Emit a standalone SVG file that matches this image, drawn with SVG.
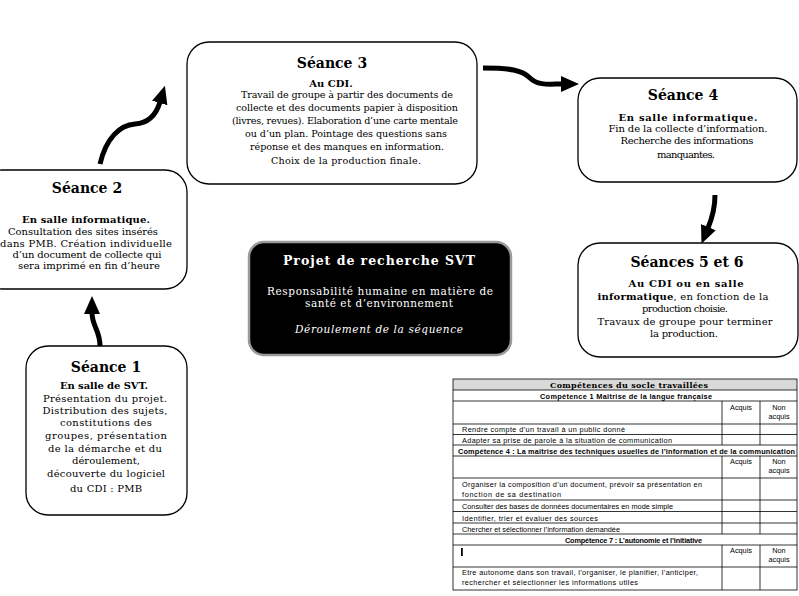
<svg xmlns="http://www.w3.org/2000/svg" width="799" height="596" viewBox="0 0 799 596">
<defs>
<style>
.box{fill:#fff;stroke:#000;stroke-width:1.3}
.t{font-family:"DejaVu Serif",serif;text-anchor:middle;fill:#000}
.h{font-size:14px;font-weight:bold}
.s{font-size:10px;font-weight:bold}
.b{font-size:10px}
.b3{font-size:9.6px}
.w{fill:#fff}
.tb{font-family:"Liberation Sans",Arial,sans-serif;font-size:7.3px;fill:#000}
.tbh{font-family:"DejaVu Serif",serif;font-size:8px;font-weight:bold;text-anchor:middle}
.tbb{font-weight:bold}
.mid{text-anchor:middle}
.grid{stroke:#000;stroke-width:0.8;fill:none}
.arrow{fill:none;stroke:#000;stroke-width:5;marker-end:url(#ah)}
</style>
<marker id="ah" markerUnits="userSpaceOnUse" viewBox="0 0 18 16" refX="1" refY="8" markerWidth="18" markerHeight="16" orient="auto"><path d="M0,0 L18,8 L0,16 z" fill="#000"/></marker>
</defs>
<rect width="799" height="596" fill="#fff"/>

<g id="connectors">
<path class="arrow" d="M100,346 C100,330 92,326 92,313"/>
<path class="arrow" d="M100,164 C106,138 120,125 135,124 C150,123 157,112 160,102"/>
<path class="arrow" d="M483,68 C510,68 522,70 530,78 C538,86 550,84 562,84"/>
<path class="arrow" d="M715,195 C715,208 713,216 708,228"/>
</g>

<g id="seance1">
<rect class="box" x="26" y="346" width="161" height="169" rx="22"/>
<text class="t h" x="106" y="372">Séance 1</text>
<text class="t s" x="104" y="389" textLength="88">En salle de SVT.</text>
<text class="t b" x="105" y="402" textLength="124">Présentation du projet.</text>
<text class="t b" x="105" y="414" textLength="125">Distribution des sujets,</text>
<text class="t b" x="106" y="426" textLength="92">constitutions des</text>
<text class="t b" x="106" y="439" textLength="122">groupes, présentation</text>
<text class="t b" x="105" y="452" textLength="114">de la démarche et du</text>
<text class="t b" x="106" y="464" textLength="68">déroulement,</text>
<text class="t b" x="106" y="477" textLength="118">découverte du logiciel</text>
<text class="t b" x="106" y="492" textLength="72">du CDI : PMB</text>
</g>

<g id="seance2">
<rect class="box" x="-20" y="170" width="207" height="119" rx="22"/>
<text class="t h" x="87" y="193">Séance 2</text>
<text class="t s" x="86" y="223" textLength="128">En salle informatique.</text>
<text class="t b" x="83" y="235" textLength="150">Consultation des sites insérés</text>
<text class="t b" x="86" y="247" textLength="172">dans PMB. Création individuelle</text>
<text class="t b" x="87" y="258" textLength="149">d’un document de collecte qui</text>
<text class="t b" x="89" y="269" textLength="142">sera imprimé en fin d’heure</text>
</g>

<g id="seance3">
<rect class="box" x="187" y="42" width="290" height="142" rx="22"/>
<text class="t h" x="332" y="68">Séance 3</text>
<text class="t s" x="331" y="87">Au CDI.</text>
<text class="t b3" x="347" y="98" textLength="212">Travail de groupe à partir des documents de</text>
<text class="t b3" x="347" y="111" textLength="222">collecte et des documents papier à disposition</text>
<text class="t b3" x="345" y="124" textLength="226">(livres, revues). Elaboration d’une carte mentale</text>
<text class="t b3" x="346" y="137" textLength="202">ou d’un plan.  Pointage des questions sans</text>
<text class="t b3" x="347" y="150" textLength="194">réponse et des manques en information.</text>
<text class="t b3" x="346" y="164" textLength="150">Choix de la production finale.</text>
</g>

<g id="seance4">
<rect class="box" x="578" y="78" width="219" height="104" rx="22"/>
<text class="t h" x="683" y="100">Séance 4</text>
<text class="t s" x="688" y="121" textLength="139">En salle informatique.</text>
<text class="t b" x="688" y="132" textLength="159">Fin de la collecte d’information.</text>
<text class="t b" x="687" y="144" textLength="133">Recherche des informations</text>
<text class="t b" x="686" y="158" textLength="58">manquantes.</text>
</g>

<g id="seance56">
<rect class="box" x="578" y="243" width="220" height="114" rx="22"/>
<text class="t h" x="687" y="267">Séances 5 et 6</text>
<text class="t s" x="686" y="287" textLength="115">Au CDI ou en salle</text>
<text class="t b" x="683" y="300" textLength="171"><tspan font-weight="bold">informatique</tspan>, en fonction de la</text>
<text class="t b" x="685" y="312" textLength="86">production choisie.</text>
<text class="t b" x="685" y="325" textLength="175">Travaux de groupe pour terminer</text>
<text class="t b" x="684" y="337" textLength="68">la production.</text>
</g>

<g id="projet">
<rect x="249" y="242" width="262" height="113" rx="15" fill="#000" stroke="#9a9a9a" stroke-width="2.5"/>
<text class="t w" x="379" y="265" font-size="12.5" font-weight="bold" textLength="192">Projet de recherche SVT</text>
<text class="t w" x="380" y="295" font-size="10.5" textLength="226">Responsabilité humaine en matière de</text>
<text class="t w" x="379" y="307" font-size="10.5" textLength="148">santé et d’environnement</text>
<text class="t w" x="379" y="333" font-size="10.5" font-style="italic" textLength="168">Déroulement de la séquence</text>
</g>

<g id="competences">
<rect x="453" y="379" width="344" height="11" fill="#d9d9d9"/>
<rect class="grid" x="453" y="379" width="344" height="211"/>
<path class="grid" d="M453,390H797M453,401H797M453,424H797M453,434.5H797M453,445H797M453,456H797M453,478H797M453,500H797M453,511.5H797M453,523H797M453,534H797M453,545H797M453,567H797M722,401V445M760,401V445M722,456V534M760,456V534M722,545V590M760,545V590"/>
<text class="tbh" x="629" y="388" textLength="158">Compétences du socle travaillées</text>
<text class="tb tbb mid" x="626" y="398.5" textLength="172">Compétence 1 Maîtrise de la langue française</text>
<text class="tb mid" x="741" y="410">Acquis</text>
<text class="tb mid" x="779" y="410">Non</text>
<text class="tb mid" x="779" y="419">acquis</text>
<text class="tb" x="462" y="432" textLength="163">Rendre compte d’un travail à un public donné</text>
<text class="tb" x="462" y="443" textLength="210">Adapter sa prise de parole à la situation de communication</text>
<text class="tb tbb" x="458" y="453.5" textLength="337">Compétence 4 : La maîtrise des techniques usuelles de l’information et de la communication</text>
<text class="tb mid" x="741" y="464">Acquis</text>
<text class="tb mid" x="779" y="464">Non</text>
<text class="tb mid" x="779" y="473">acquis</text>
<text class="tb" x="462" y="487" textLength="240">Organiser la composition d’un document, prévoir sa présentation en</text>
<text class="tb" x="462" y="497" textLength="99">fonction de sa destination</text>
<text class="tb" x="462" y="509" textLength="211">Consulter des bases de données documentaires en mode simple</text>
<text class="tb" x="462" y="520.5" textLength="136">Identifier, trier et évaluer des sources</text>
<text class="tb" x="462" y="531.5" textLength="158">Chercher et sélectionner l’information demandée</text>
<text class="tb tbb mid" x="633.5" y="542.5" textLength="137">Compétence 7 : L’autonomie et l’initiative</text>
<rect x="461" y="548" width="1.8" height="8" fill="#000"/>
<text class="tb mid" x="741" y="553">Acquis</text>
<text class="tb mid" x="779" y="553">Non</text>
<text class="tb mid" x="779" y="562">acquis</text>
<text class="tb" x="462" y="575" textLength="236">Etre autonome dans son travail, l’organiser, le planifier, l’anticiper,</text>
<text class="tb" x="462" y="585" textLength="176">rechercher et sélectionner les informations utiles</text>
</g>
</svg>
